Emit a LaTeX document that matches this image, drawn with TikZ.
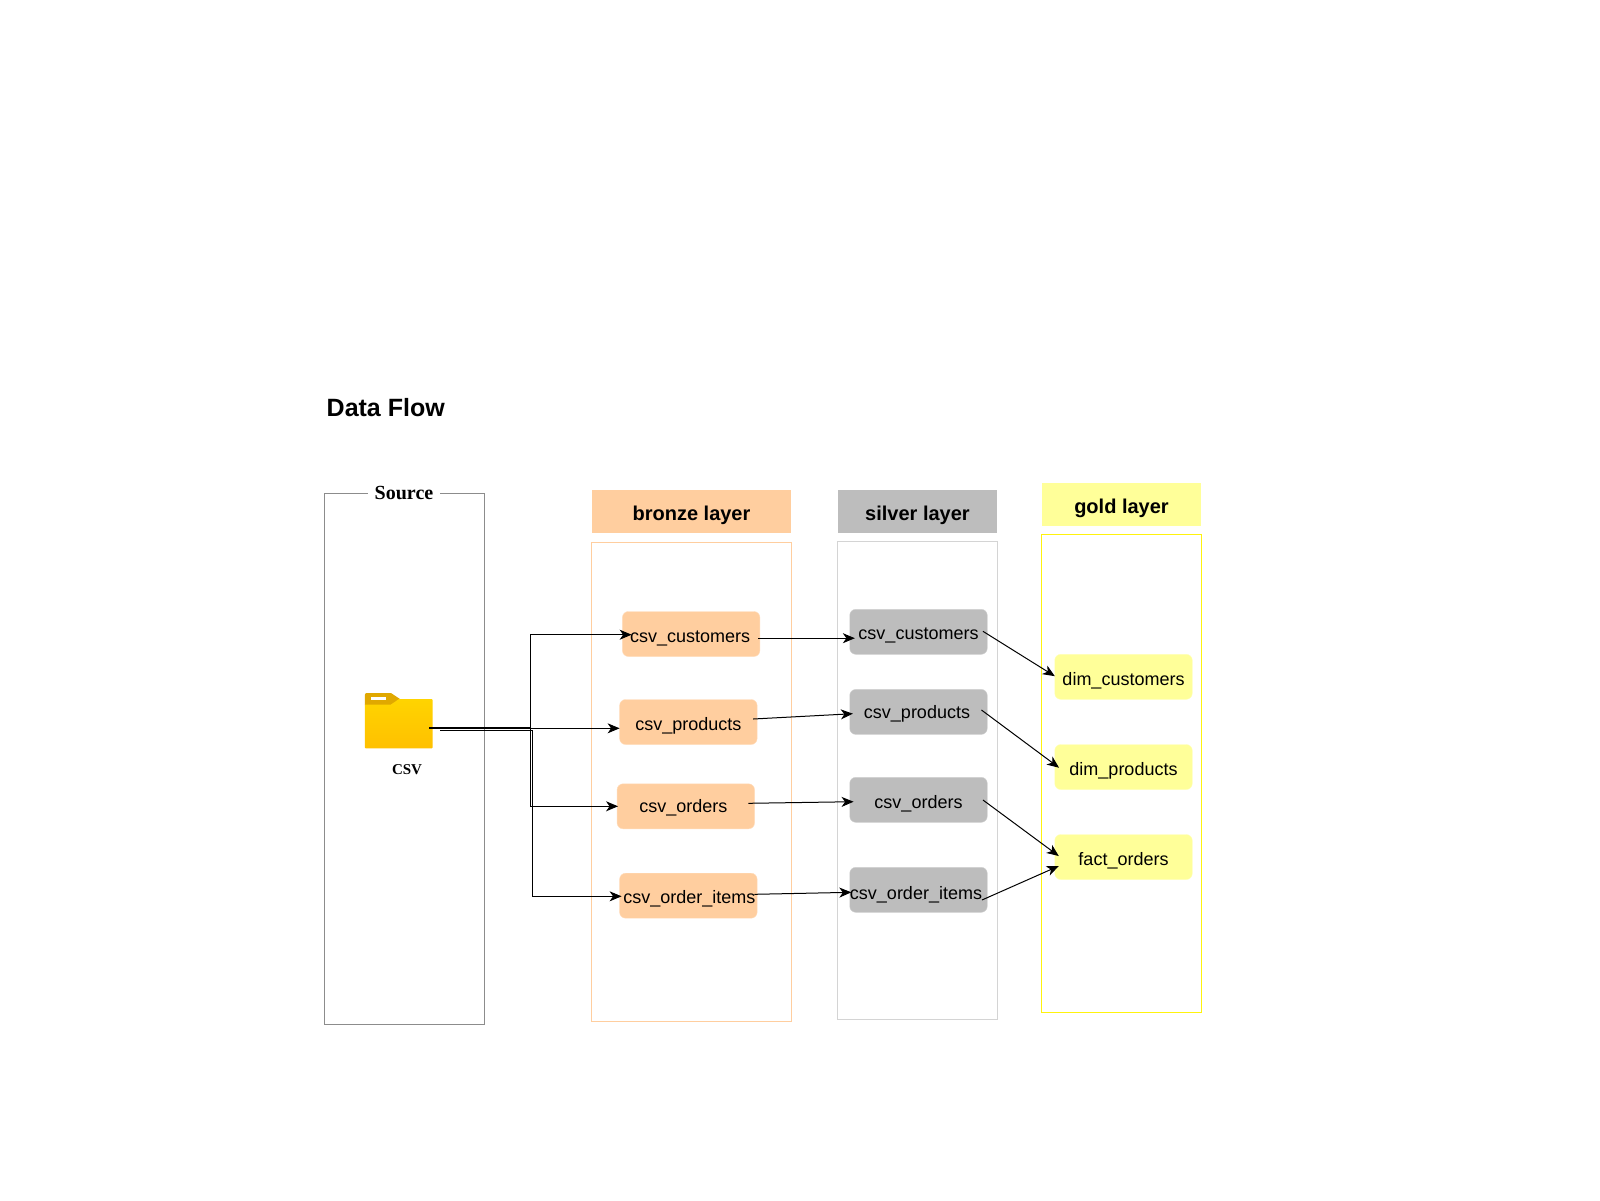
\documentclass[tikz,border=0pt]{standalone}
\usepackage{fontspec}
\setmainfont{Liberation Sans}
\newfontfamily\srf{Liberation Serif}
\usetikzlibrary{arrows.meta}
\definecolor{bronzeC}{HTML}{FFCE9F}
\definecolor{silverC}{HTML}{BDBDBD}
\definecolor{goldC}{HTML}{FFFF99}
\definecolor{folderC}{HTML}{FFD400}
\definecolor{folderD}{HTML}{FFC000}
\definecolor{tabC}{HTML}{E0A800}
\newcommand{\tmove}[2]{\hspace*{#1pt}#2\hspace*{-#1pt}}
\tikzset{
  x=1pt,y=-1pt,
  frame/.style={rectangle,draw,fill=white,inner sep=0,line width=1pt},
  head/.style={rectangle,inner sep=0,font=\fontsize{20}{24}\selectfont\bfseries,text=black,text depth=0pt},
  item/.style={rectangle,rounded corners=6pt,inner sep=0,minimum width=137.5pt,minimum height=45pt,font=\fontsize{18}{22}\selectfont,text=black,text depth=0pt},
  base/.style={text height=2*#1},
  bz/.style={item,fill=bronzeC,draw=bronzeC!70!white,line width=.4pt},
  sv/.style={item,fill=silverC,draw=silverC!70!white,line width=.4pt},
  gd/.style={item,fill=goldC,draw=goldC!70!white,line width=.4pt},
  flow/.style={draw=black,line width=1pt,-{Stealth[length=12pt,width=10pt,inset=3.5pt]}},
  lbl/.style={inner sep=0,text=black}
}
\begin{document}
\begin{tikzpicture}
\useasboundingbox (0,0) rectangle (1600,1200);
\fill[white] (0,0) rectangle (1600,1200);
% title
\node[inner sep=0,anchor=west,font=\fontsize{25}{30}\selectfont\bfseries] (title) at (326.5,407.7) {Data Flow};
% containers
\node[frame,draw=black!45,minimum width=160pt,minimum height=531pt] (srcbox) at (404.5,759) {};
\node[frame,draw=bronzeC,minimum width=200pt,minimum height=479.5pt] (bzbox) at (691.5,781.75) {};
\node[frame,draw=black!17,minimum width=160pt,minimum height=478pt] (svbox) at (917.5,780) {};
\node[frame,draw=yellow!95!white,minimum width=160pt,minimum height=478pt] (gdbox) at (1121.5,773.3) {};
% headers
\node[head,base=8.6pt,fill=bronzeC,minimum width=199pt,minimum height=42.7pt] (bzh) at (691.5,511.4) {bronze layer};
\node[head,base=8.6pt,fill=silverC,minimum width=159pt,minimum height=42.7pt] (svh) at (917.5,511.4) {silver layer};
\node[head,base=8.6pt,fill=goldC,minimum width=159pt,minimum height=42.7pt] (gdh) at (1121.5,504.5) {gold layer};
% source label
\node[lbl,fill=white,inner xsep=6.5pt,inner ysep=2pt,font=\fontsize{20}{22}\srf\bfseries] (srcl) at (404,493) {Source};
% folder
\fill[tabC] (364.8,695) arc[start angle=180,end angle=270,radius=2] -- (391,693) -- (400,699) -- (398,701) -- (391,705) -- (364.8,705) -- cycle;
\fill[white] (371,696.5) rectangle (386,699.5);
\path[top color=folderC,bottom color=folderD] (364.8,704.5) -- (391,704.5) -- (399,699) -- (431.7,699) -- (432.7,700) -- (432.7,747.3) -- (431.7,748.3) -- (365.8,748.3) -- (364.8,747.3) -- cycle;
\coordinate (folder) at (398.5,720.5);
\node[lbl,font=\fontsize{15}{18}\srf\bfseries,text depth=0pt,text height=10pt] (csvl) at (407,769) {CSV};
% bronze
\node[bz,base=8pt] (bc) at (691.15,634) {\tmove{-1}{csv\_customers}};
\node[bz,base=8pt] (bp) at (688.35,722) {csv\_products};
\node[bz,base=6pt] (bo) at (685.8,806.3) {\tmove{-2.5}{csv\_orders}};
\node[bz,base=7.3pt] (bi) at (688.35,895.7) {\tmove{1}{csv\_order\_items}};
% silver
\node[sv,base=7.2pt] (sc) at (918.5,631.8) {csv\_customers};
\node[sv,base=6.5pt] (sp) at (918.5,711.9) {\tmove{-1.5}{csv\_products}};
\node[sv,base=8.2pt] (so) at (918.5,799.8) {csv\_orders};
\node[sv,base=9.2pt] (si) at (918.5,889.8) {\tmove{-2.5}{csv\_order\_items}};
% gold
\node[gd,base=8.2pt] (gc) at (1123.5,676.8) {dim\_customers};
\node[gd,base=8.9pt] (gp) at (1123.5,767) {dim\_products};
\node[gd,base=8.1pt] (gf) at (1123.5,857) {fact\_orders};
% source fan-out
\draw[flow] ([shift={(30.5,7.2)}]folder) -| (530.3,634.7) -- ([shift={(-59.5,0.7)}]bc.center);
\draw[flow] ([shift={(30.5,7.8)}]folder) -- ([shift={(-68.75,6.3)}]bp.center);
\draw[flow] ([shift={(30.5,7.5)}]folder) -| (530.7,806.3) -- ([shift={(-67.75,0)}]bo.center);
\draw[flow] ([shift={(41.5,9.8)}]folder) -| (532.3,896.3) -- ([shift={(-66.75,0.6)}]bi.center);
% bronze to silver
\draw[flow] ([shift={(-2,4.2)}]bc.east) -- ([shift={(5.3,6.4)}]sc.west);
\draw[flow] ([shift={(-4.2,-3)}]bp.east) -- ([shift={(3.3,1.8)}]sp.west);
\draw[flow] ([shift={(-6.5,-3)}]bo.east) -- ([shift={(4,1.9)}]so.west);
\draw[flow] ([shift={(-3,-1.4)}]bi.east) -- ([shift={(1.8,2.5)}]si.west);
% silver to gold
\draw[flow] ([shift={(-4.5,-0.5)}]sc.east) -- ([shift={(0.3,-0.6)}]gc.west);
\draw[flow] ([shift={(-6,-1.9)}]sp.east) -- ([shift={(4.5,0.7)}]gp.west);
\draw[flow] ([shift={(-4.5,0.2)}]so.east) -- ([shift={(4.2,-1)}]gf.west);
\draw[flow] ([shift={(-5.5,10.2)}]si.east) -- ([shift={(4.2,9)}]gf.west);
\end{tikzpicture}
\end{document}
